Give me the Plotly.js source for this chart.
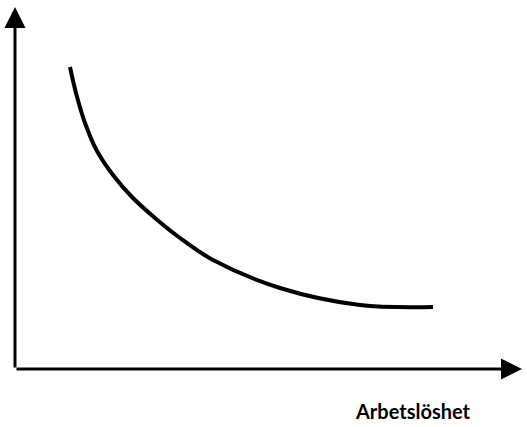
<!DOCTYPE html>
<html>
<head>
<meta charset="utf-8">
<script src="https://cdn.plot.ly/plotly-3.0.1.min.js"></script>
<style>html,body{margin:0;padding:0;background:#fff;}#chart{width:527px;height:427px;}</style>
</head>
<body>
<div id="chart"></div>
<script>
// Curve (arbitrary units: unemployment vs inflation)
const unemployment = [55, 61, 70, 82, 98, 117, 140, 165, 198, 265, 345, 418];
const inflation    = [302, 276, 246, 218, 194, 172, 151, 131, 109, 81, 64, 62];
const xLabel = "Arbetslöshet";
const xMax = 507, yMax = 362;

const trace = {
  x: unemployment, y: inflation, type: 'scatter', mode: 'lines',
  line: {color: '#000', width: 4, shape: 'spline', smoothing: 1.0},
  hoverinfo: 'skip'
};

const layout = {
  width: 527, height: 427,
  margin: {l: 15, r: 5, t: 7, b: 58},
  paper_bgcolor: '#fff', plot_bgcolor: '#fff',
  showlegend: false,
  xaxis: {range: [0, xMax], visible: false, fixedrange: true},
  yaxis: {range: [0, yMax], visible: false, fixedrange: true},
  annotations: [
    {x: 0, y: yMax, ax: 0, ay: 0, xref: 'x', yref: 'y', axref: 'x', ayref: 'y',
     showarrow: true, arrowhead: 2, arrowsize: 1.4, arrowwidth: 3, arrowcolor: '#000', text: '', standoff: 0, startstandoff: 0},
    {x: xMax, y: 0, ax: 0, ay: 0, xref: 'x', yref: 'y', axref: 'x', ayref: 'y',
     showarrow: true, arrowhead: 2, arrowsize: 1.4, arrowwidth: 3, arrowcolor: '#000', text: '', standoff: 0, startstandoff: 0},
    {x: (413 - 15) / 507, y: (369 - 411) / 362, xref: 'paper', yref: 'paper', text: xLabel, showarrow: false,
     xanchor: 'center', yanchor: 'middle',
     font: {family: 'Lato, sans-serif', size: 20, color: '#000', weight: 'bold'}}
  ]
};

Plotly.newPlot('chart', [trace], layout, {staticPlot: true});
</script>
</body>
</html>
